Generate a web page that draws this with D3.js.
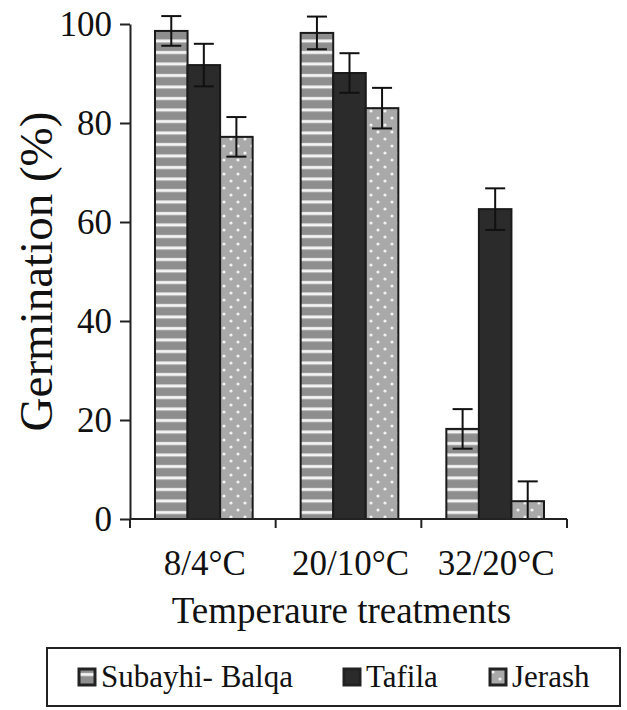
<!DOCTYPE html>
<html>
<head>
<meta charset="utf-8">
<script src="https://cdn.jsdelivr.net/npm/d3@7"></script>
<style>
  body { margin: 0; background: #fff; }
  svg text { font-family: "Liberation Serif", "Times New Roman", serif; fill: #111; }
  .axis path, .axis line { stroke: #222; stroke-width: 2; }
</style>
</head>
<body>
<div id="chart"></div>
<script>
var categories = ["8/4°C", "20/10°C", "32/20°C"]
var seriesNames = ["Subayhi- Balqa", "Tafila", "Jerash"]
var subayhiVals = [98.6, 98.2, 18.2]
var subayhiErr  = [3.0, 3.3, 4.0]
var tafilaVals  = [91.7, 90.1, 62.6]
var tafilaErr   = [4.3, 4.0, 4.2]
var jerashVals  = [77.2, 83.0, 3.6]
var jerashErr   = [4.0, 4.1, 4.0]
var yTicks = [0, 20, 40, 60, 80, 100]

var serif = '"Liberation Serif", "Times New Roman", serif'

var series = [
  { name: seriesNames[0], vals: subayhiVals, err: subayhiErr, fill: "url(#stripes)" },
  { name: seriesNames[1], vals: tafilaVals,  err: tafilaErr,  fill: "#2b2b2b" },
  { name: seriesNames[2], vals: jerashVals,  err: jerashErr,  fill: "url(#dots)" }
]

var W = 627, H = 710
var margin = {top: 24, left: 130, right: 60, bottom: 191}
var width = W - margin.left - margin.right,
    height = H - margin.top - margin.bottom

var svg = d3.select("#chart").append("svg")
  .attr("width", W)
  .attr("height", H)
  .attr("font-family", serif)

// patterns {{{
var defs = svg.append("defs")
var st = defs.append("pattern")
  .attr("id", "stripes")
  .attr("patternUnits", "userSpaceOnUse")
  .attr("width", 12).attr("height", 11.5)
st.append("rect").attr("width", 12).attr("height", 11.5).attr("fill", "#8e8e8e")
st.append("rect").attr("y", 4).attr("width", 12).attr("height", 3).attr("fill", "#f4f4f4")

var dt = defs.append("pattern")
  .attr("id", "dots")
  .attr("patternUnits", "userSpaceOnUse")
  .attr("width", 14).attr("height", 14)
dt.append("rect").attr("width", 14).attr("height", 14).attr("fill", "#a9a9a9")
dt.append("circle").attr("cx", 3).attr("cy", 3).attr("r", 1.6).attr("fill", "#f2f2f2")
dt.append("circle").attr("cx", 10).attr("cy", 10).attr("r", 1.6).attr("fill", "#f2f2f2")
// }}}

var g = svg.append("g")
  .attr("transform", "translate(" + margin.left + "," + margin.top + ")")

var x0 = d3.scaleBand()
  .domain(categories)
  .range([0, width])
  .padding(0)

var x1 = d3.scaleBand()
  .domain(seriesNames)
  .range([25, x0.bandwidth() - 23])
  .padding(0)

var y = d3.scaleLinear()
  .domain([0, 100])
  .range([height, 0])

// bars
series.forEach(s => {
  var sg = g.append("g")
  sg.selectAll("rect")
    .data(s.vals)
    .enter().append("rect")
    .attr("x", (d, i) => x0(categories[i]) + x1(s.name))
    .attr("y", d => y(d))
    .attr("width", x1.bandwidth())
    .attr("height", d => height - y(d))
    .attr("fill", s.fill)
    .attr("stroke", "#1a1a1a")
    .attr("stroke-width", 2)
})

// error bars
series.forEach(s => {
  var eg = g.append("g").attr("stroke", "#111").attr("stroke-width", 2)
  s.vals.forEach((v, i) => {
    var cx = x0(categories[i]) + x1(s.name) + x1.bandwidth() / 2
    var loV = v - s.err[i]
    var lo = y(Math.max(0, loV)), hi = y(v + s.err[i])
    eg.append("line").attr("x1", cx).attr("x2", cx).attr("y1", lo).attr("y2", hi)
    eg.append("line").attr("x1", cx - 10).attr("x2", cx + 10).attr("y1", hi).attr("y2", hi)
    if (loV > 0)
      eg.append("line").attr("x1", cx - 10).attr("x2", cx + 10).attr("y1", lo).attr("y2", lo)
  })
})

// y axis
var ya = g.append("g")
  .attr("class", "axis")
  .call(d3.axisLeft(y).tickValues(yTicks).tickSize(10).tickSizeOuter(0).tickPadding(8))
ya.attr("font-family", serif).attr("font-size", 35)
ya.selectAll("text")
  .style("font-family", serif)
  .style("font-size", "35px")
  .attr("fill", "#111")
  .attr("dy", "0.33em")

// x axis
var xa = g.append("g").attr("class", "axis")
  .attr("transform", "translate(0," + height + ")")
xa.append("line").attr("x1", 0).attr("x2", width)
var bounds = categories.map(c => x0(c)).concat([width])
xa.selectAll(".bt").data(bounds).enter().append("line")
  .attr("class", "bt")
  .attr("x1", d => d).attr("x2", d => d)
  .attr("y1", 0).attr("y2", 9)
xa.selectAll(".cl").data(categories).enter().append("text")
  .attr("class", "cl")
  .attr("x", d => x0(d) + x0.bandwidth() / 2 + 2)
  .attr("y", 56)
  .attr("text-anchor", "middle")
  .style("font-family", serif)
  .style("font-size", "35px")
  .text(d => d)

// titles
g.append("text")
  .attr("x", width / 2 - 7)
  .attr("y", height + 104)
  .attr("text-anchor", "middle")
  .style("font-family", serif)
  .style("font-size", "37px")
  .text("Temperaure treatments")

g.append("text")
  .attr("transform", "translate(" + (-78) + "," + (height / 2) + ") rotate(-90)")
  .attr("text-anchor", "middle")
  .style("font-family", serif)
  .style("font-size", "47px")
  .text("Germination (%)")

// legend
var lg = svg.append("g").attr("transform", "translate(47,648)")
lg.append("rect")
  .attr("width", 573).attr("height", 58)
  .attr("fill", "none").attr("stroke", "#222").attr("stroke-width", 2)
var legX = [32, 297, 443]
series.forEach((s, i) => {
  var li = lg.append("g").attr("transform", "translate(" + legX[i] + ",21)")
  li.append("rect")
    .attr("width", 16).attr("height", 16)
    .attr("fill", s.fill)
    .attr("stroke", "#222").attr("stroke-width", 3)
  li.append("text")
    .attr("x", 22).attr("y", 18)
    .style("font-family", serif)
    .style("font-size", "31px")
    .text(s.name)
})
</script>
</body>
</html>
